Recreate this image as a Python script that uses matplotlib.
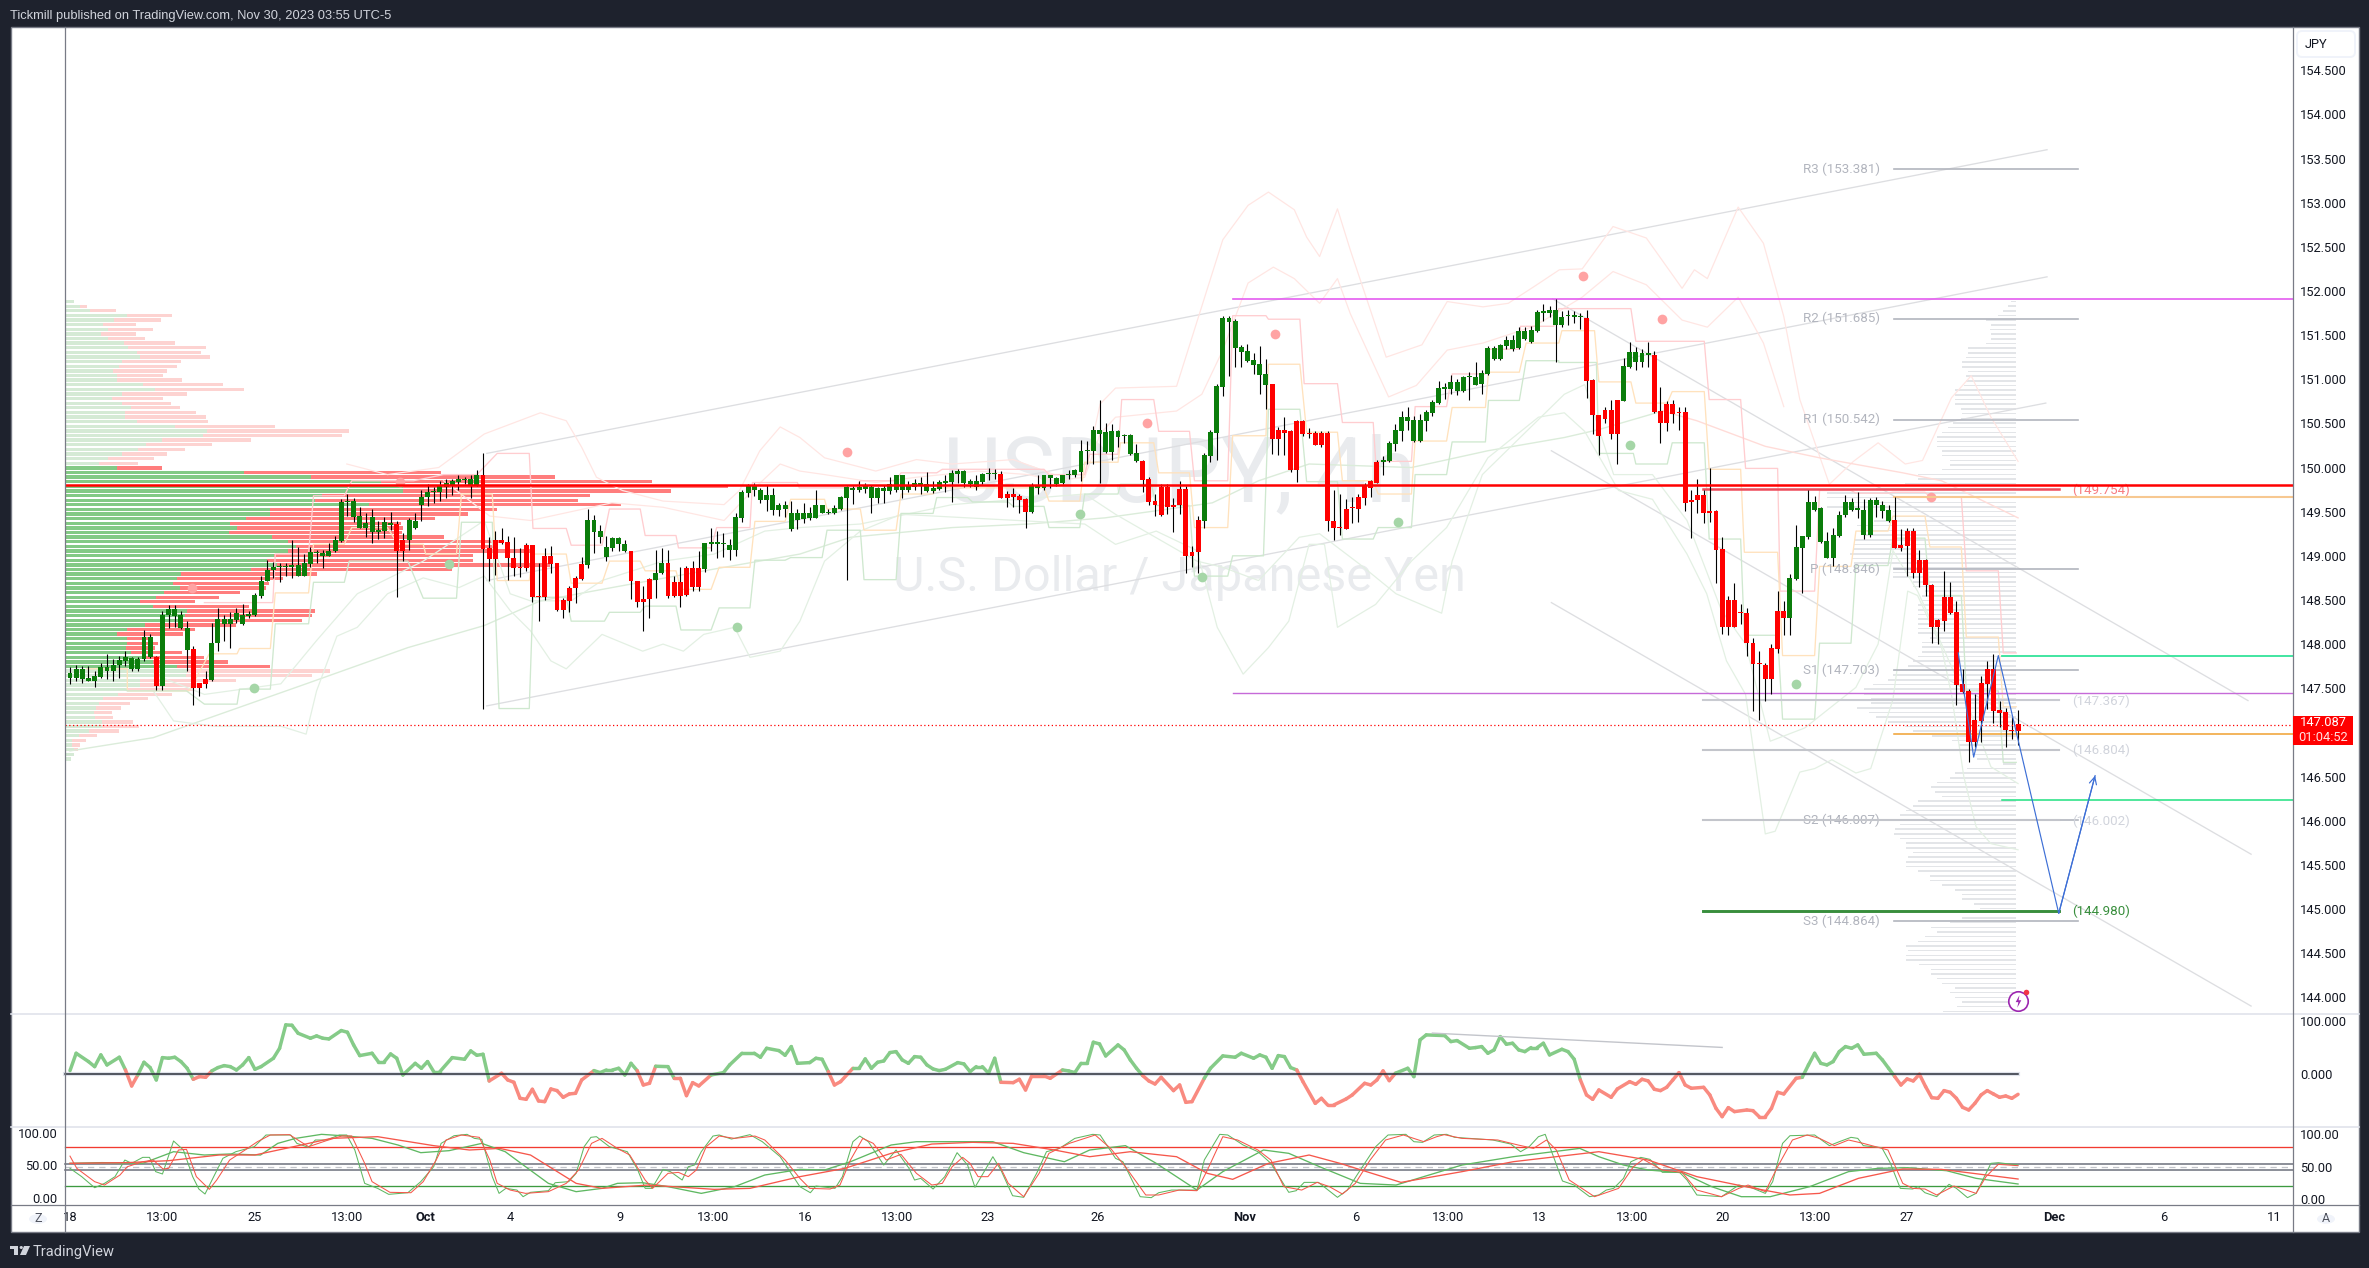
import numpy as np
import matplotlib
matplotlib.use('Agg')
import matplotlib.pyplot as plt
from matplotlib.lines import Line2D
from matplotlib.patches import Rectangle, Polygon, Circle, FancyBboxPatch
from matplotlib.path import Path
from matplotlib.transforms import offset_copy

W, H = 2369, 1268

# candles (4h bars), colour comes from the indicator so it is kept apart
body_top = [
147.67,147.72,147.72,147.62,147.64,147.74,147.74,147.76,147.82,147.85,
147.84,147.83,148.08,148.08,147.85,148.33,148.40,148.40,148.33,148.18,
147.95,147.56,147.61,148.01,148.28,148.28,148.28,148.35,148.33,148.34,
148.56,148.72,148.84,148.87,148.88,148.89,148.90,148.90,148.92,149.04,
149.04,149.03,149.06,149.18,149.61,149.62,149.62,149.45,149.37,149.44,
149.29,149.38,149.37,149.36,149.18,149.40,149.40,149.67,149.72,149.73,
149.79,149.82,149.85,149.87,149.87,149.87,149.92,149.92,149.09,149.18,
149.18,149.16,148.98,148.87,149.12,149.12,148.55,149.00,149.00,148.92,
148.50,148.64,148.75,148.91,149.41,149.41,149.28,149.10,149.20,149.20,
149.13,149.06,148.72,148.51,148.74,148.81,148.92,148.92,148.70,148.70,
148.86,148.86,148.86,149.14,149.16,149.16,149.13,149.12,149.44,149.72,
149.79,149.79,149.75,149.69,149.69,149.57,149.57,149.49,149.49,149.48,
149.48,149.58,149.58,149.49,149.54,149.67,149.78,149.77,149.78,149.79,
149.78,149.77,149.77,149.81,149.92,149.92,149.80,149.83,149.83,149.81,
149.77,149.84,149.85,149.94,149.96,149.96,149.85,149.85,149.93,149.94,
149.94,149.93,149.70,149.70,149.68,149.64,149.79,149.79,149.91,149.91,
149.88,149.91,149.92,149.97,150.19,150.20,150.42,150.42,150.40,150.41,
150.41,150.37,150.37,150.16,150.07,149.87,149.62,149.78,149.78,149.57,
149.76,149.76,149.04,149.41,150.14,150.40,150.92,151.69,151.69,151.66,
151.37,151.32,151.22,151.17,151.06,150.95,150.43,150.43,150.41,150.53,
150.53,150.39,150.39,150.39,150.39,149.40,149.33,149.53,149.55,149.67,
149.80,149.85,150.06,150.09,150.28,150.43,150.57,150.57,150.54,150.54,
150.63,150.74,150.90,150.91,150.97,150.97,151.03,151.03,151.03,151.07,
151.35,151.35,151.39,151.45,151.45,151.55,151.55,151.56,151.76,151.77,
151.79,151.79,151.71,151.73,151.73,151.71,151.69,150.99,150.60,150.65,
150.65,150.77,151.15,151.31,151.31,151.30,151.30,151.28,150.64,150.72,
150.72,150.63,150.63,149.63,149.69,149.69,149.51,149.51,149.08,148.50,
148.50,148.35,148.35,148.01,147.78,147.76,147.96,148.38,148.38,148.75,
149.10,149.23,149.61,149.61,149.54,149.17,149.24,149.46,149.61,149.61,
149.54,149.52,149.63,149.63,149.58,149.52,149.40,149.12,149.28,149.28,
148.95,148.95,148.67,148.27,148.53,148.53,148.36,147.55,147.47,147.14,
147.56,147.72,147.72,147.25,147.23,147.03,147.09]
body_bottom = [
147.62,147.62,147.61,147.58,147.58,147.63,147.70,147.70,147.76,147.81,
147.72,147.72,147.83,147.85,147.53,147.53,148.33,148.32,148.18,147.93,
147.50,147.50,147.55,147.59,148.01,148.23,148.23,148.27,148.23,148.32,
148.33,148.55,148.72,148.84,148.87,148.87,148.87,148.77,148.77,148.91,
149.03,149.00,149.00,149.05,149.17,149.61,149.44,149.32,149.32,149.27,
149.27,149.28,149.35,149.06,149.06,149.18,149.31,149.58,149.67,149.72,
149.72,149.78,149.79,149.84,149.86,149.80,149.80,149.08,148.96,148.96,
149.15,148.97,148.86,148.86,148.86,148.53,148.53,148.53,148.91,148.39,
148.39,148.49,148.63,148.74,148.90,149.27,149.21,148.99,149.09,149.13,
149.05,148.71,148.48,148.48,148.51,148.73,148.81,148.54,148.54,148.54,
148.56,148.65,148.65,148.85,149.13,149.13,149.13,149.07,149.07,149.43,
149.71,149.74,149.63,149.63,149.52,149.52,149.53,149.30,149.41,149.42,
149.43,149.43,149.48,149.48,149.49,149.53,149.66,149.75,149.74,149.76,
149.66,149.66,149.73,149.73,149.74,149.74,149.74,149.78,149.80,149.73,
149.73,149.76,149.83,149.84,149.93,149.83,149.81,149.78,149.84,149.93,
149.93,149.66,149.66,149.67,149.63,149.50,149.50,149.77,149.77,149.88,
149.81,149.83,149.91,149.91,149.95,150.19,150.19,150.38,150.18,150.18,
150.35,150.36,150.15,150.07,149.86,149.61,149.58,149.46,149.55,149.55,
149.57,149.00,149.00,149.04,149.40,150.13,150.39,150.91,151.65,151.35,
151.31,151.21,151.16,151.05,150.94,150.32,150.32,150.39,149.97,149.97,
150.38,150.38,150.26,150.26,149.39,149.32,149.32,149.30,149.54,149.53,
149.66,149.77,149.83,150.06,150.07,150.27,150.41,150.53,150.30,150.30,
150.53,150.62,150.73,150.89,150.89,150.87,150.87,151.02,150.94,150.95,
151.06,151.23,151.23,151.38,151.34,151.35,151.46,151.42,151.55,151.75,
151.75,151.62,151.62,151.72,151.71,151.70,150.98,150.59,150.36,150.55,
150.38,150.38,150.75,151.14,151.19,151.19,151.27,150.63,150.50,150.50,
150.61,150.62,149.60,149.61,149.63,149.49,149.49,149.07,148.19,148.19,
148.19,148.35,148.01,147.77,147.77,147.61,147.61,147.95,148.29,148.29,
148.74,149.09,149.21,149.52,149.16,148.98,148.98,149.23,149.46,149.52,
149.52,149.24,149.24,149.58,149.51,149.39,149.09,149.09,149.11,148.80,
148.80,148.67,148.19,148.19,148.26,148.35,147.54,147.46,146.89,146.89,
147.13,147.55,147.24,147.22,147.03,147.02,147.02]
wick_high = [
147.74,147.76,147.75,147.75,147.70,147.79,147.89,147.83,147.87,147.92,
147.85,147.85,148.16,148.11,147.87,148.38,148.44,148.44,148.38,148.26,
147.98,147.56,147.70,148.24,148.41,148.33,148.36,148.41,148.45,148.37,
148.58,148.77,148.95,148.93,148.92,148.92,149.18,149.10,149.02,149.10,
149.07,149.07,149.14,149.23,149.64,149.70,149.66,149.55,149.48,149.53,
149.40,149.44,149.50,149.40,149.26,149.43,149.49,149.74,149.81,149.78,
149.85,149.87,149.87,149.91,149.89,149.92,149.97,150.16,149.21,149.28,
149.32,149.23,149.21,149.09,149.15,149.12,148.92,149.09,149.11,148.92,
148.52,148.66,148.77,148.99,149.53,149.46,149.35,149.23,149.21,149.21,
149.18,149.06,148.72,148.66,148.75,149.07,149.09,149.07,148.77,148.87,
148.89,148.94,149.06,149.15,149.32,149.28,149.26,149.19,149.48,149.74,
149.81,149.83,149.77,149.80,149.77,149.60,149.62,149.62,149.53,149.60,
149.55,149.75,149.58,149.53,149.57,149.68,149.79,149.79,149.85,149.83,
149.80,149.78,149.80,149.89,149.92,149.92,149.85,149.87,149.89,149.95,
149.85,149.86,149.92,149.97,149.98,149.97,149.87,149.91,149.94,149.99,
149.98,149.96,149.73,149.77,149.70,149.65,149.83,149.92,149.92,149.92,
149.89,149.92,149.97,149.98,150.31,150.30,150.47,150.76,150.50,150.49,
150.43,150.38,150.38,150.27,150.08,149.89,149.70,149.81,149.81,149.66,
149.85,149.79,149.11,149.45,150.17,150.43,150.95,151.72,151.72,151.68,
151.39,151.40,151.30,151.38,151.23,150.95,150.46,150.57,150.43,150.54,
150.54,150.45,150.41,150.41,150.41,149.75,149.70,149.64,149.67,149.70,
149.82,149.86,150.08,150.13,150.30,150.49,150.64,150.69,150.58,150.61,
150.65,150.76,150.98,150.96,151.05,151.00,151.04,151.08,151.19,151.11,
151.38,151.38,151.40,151.49,151.50,151.59,151.59,151.60,151.78,151.85,
151.83,151.91,151.77,151.79,151.77,151.75,151.78,151.00,150.60,150.68,
150.77,150.77,151.24,151.42,151.36,151.34,151.42,151.32,150.91,150.75,
150.76,150.68,150.69,149.75,149.87,149.75,149.99,149.52,149.21,148.55,
148.69,148.45,148.41,148.07,147.92,147.79,148.00,148.60,148.49,148.79,
149.35,149.23,149.74,149.68,149.55,149.27,149.32,149.51,149.69,149.65,
149.72,149.64,149.66,149.67,149.62,149.57,149.67,149.30,149.32,149.32,
149.07,148.96,148.68,148.28,148.83,148.70,148.49,147.72,147.49,147.43,
147.64,147.81,147.89,147.36,147.28,147.17,147.25]
wick_low = [
147.55,147.58,147.56,147.58,147.51,147.62,147.60,147.58,147.62,147.75,
147.69,147.70,147.81,147.84,147.48,147.48,148.18,148.19,148.17,147.69,
147.31,147.41,147.50,147.58,147.92,148.04,147.96,148.24,148.22,148.29,
148.32,148.52,148.72,148.75,148.70,148.77,148.75,148.77,148.77,148.87,
148.92,148.86,149.00,149.04,149.16,149.45,149.38,149.31,149.21,149.14,
149.19,149.20,149.29,148.53,148.94,149.07,149.30,149.40,149.56,149.60,
149.62,149.66,149.69,149.74,149.81,149.65,149.79,147.27,148.71,148.78,
149.13,148.73,148.77,148.76,148.83,148.48,148.26,148.50,148.80,148.38,
148.30,148.36,148.46,148.73,148.86,149.03,149.15,148.94,149.06,149.06,
149.04,148.51,148.42,148.15,148.30,148.52,148.79,148.52,148.53,148.42,
148.54,148.60,148.60,148.82,149.06,148.98,148.99,148.95,149.00,149.38,
149.67,149.68,149.60,149.51,149.46,149.45,149.44,149.28,149.30,149.37,
149.41,149.43,149.48,149.47,149.47,149.52,148.73,149.59,149.72,149.71,
149.48,149.60,149.60,149.70,149.72,149.66,149.72,149.74,149.70,149.72,
149.71,149.74,149.72,149.61,149.83,149.78,149.78,149.74,149.81,149.86,
149.87,149.65,149.55,149.55,149.49,149.32,149.49,149.70,149.75,149.77,
149.79,149.81,149.87,149.89,149.85,150.04,150.04,149.82,150.16,150.08,
150.23,150.28,150.14,150.06,149.72,149.57,149.45,149.45,149.47,149.27,
149.47,148.80,148.87,148.81,149.32,150.06,150.08,150.81,151.04,151.14,
151.14,151.19,151.06,150.83,150.66,150.15,150.14,150.14,149.95,149.84,
150.36,150.34,150.26,150.23,149.28,149.18,149.24,149.30,149.37,149.38,
149.57,149.67,149.82,149.92,150.06,150.19,150.30,150.43,150.29,150.29,
150.41,150.58,150.72,150.78,150.83,150.82,150.86,150.76,150.94,150.83,
151.05,151.22,151.22,151.34,151.32,151.34,151.45,151.41,151.54,151.66,
151.70,151.20,151.59,151.62,151.64,151.57,150.79,150.38,150.14,150.51,
150.32,150.04,150.75,151.13,151.11,151.14,151.14,150.62,150.28,150.41,
150.50,150.43,149.51,149.20,149.48,149.37,149.38,148.69,148.11,148.10,
148.19,148.23,147.87,147.24,147.14,147.35,147.43,147.90,148.10,148.10,
148.73,148.58,149.19,149.51,149.15,148.97,148.89,149.21,149.44,149.51,
149.43,149.19,149.21,149.44,149.43,149.38,149.09,149.06,148.77,148.75,
148.65,148.55,148.01,148.00,148.15,148.34,147.31,147.45,146.67,146.83,
146.89,147.26,147.11,147.06,146.84,146.92,146.86]
color_runs = [('G',14),('R',1),('G',5),('R',3),('G',30),('R',2),('G',12),('R',17),
              ('G',7),('R',4),('G',2),('R',6),('G',48),('R',5),('G',18),('R',10),
              ('G',11),('R',18),('G',33),('R',6),('G',5),('R',22),('G',17),('R',21)]

# left volume profile, rows top to bottom (length in bar widths)
vp_up = [1.4,2.5,4.1,10.1,7.9,6.1,7.0,5.8,6.9,9.5,10.2,11.7,12.1,9.3,8.8,7.7,8.5,8.5,12.6,14.6,
         9.3,7.6,9.3,10.7,9.8,9.8,11.6,17.8,23.0,22.3,15.8,13.2,11.9,9.3,6.9,5.5,8.5,29.1,39.9,51.2,
         54.8,54.8,41.6,40.6,49.3,33.2,33.2,29.3,26.8,27.9,26.6,33.6,36.2,37.4,36.1,33.9,32.8,34.3,30.2,18.8,
         18.1,17.5,18.7,16.1,14.7,12.2,14.2,19.8,19.4,19.2,12.9,10.1,8.4,10.1,10.1,9.9,10.7,13.0,14.2,18.1,
         19.7,19.6,12.1,12.1,10.1,8.6,6.2,5.5,5.0,4.7,4.9,6.0,6.0,3.9,2.2,1.2,1.2,1.4,1.4,0.9]
vp_down = [0,1.0,4.2,7.2,7.6,5.4,7.2,5.7,6.1,8.3,12.6,10.3,11.4,9.5,9.4,8.8,7.4,10.4,13.0,14.5,
           10.5,8.3,7.9,8.0,11.4,13.1,11.6,16.2,23.1,22.6,14.3,10.6,7.5,7.2,7.6,6.3,7.3,31.9,39.6,44.0,
           52.8,43.5,43.6,42.6,40.8,36.9,32.1,30.7,27.7,26.9,28.0,27.9,34.2,32.6,39.3,32.3,33.4,44.4,32.6,22.1,
           17.2,15.6,13.9,12.2,10.3,8.9,15.6,20.7,20.6,19.2,14.8,11.0,10.8,4.1,5.0,4.7,8.3,9.5,12.3,15.2,
           23.2,20.4,15.7,9.9,10.7,8.7,7.2,5.1,4.0,2.9,2.8,5.0,6.0,4.8,2.9,2.2,1.2,0.7,0,0]

# grey fixed range profile on the right, rows top to bottom
vp_right = [0.9,1.3,2.1,2.9,4.9,4.1,4.3,4.1,4.1,4.9,7.9,7.9,8.1,8.8,8.8,7.9,8.1,8.1,8.4,10.0,
            9.9,10.0,9.9,9.0,8.8,9.0,10.3,11.1,12.0,12.8,12.8,12.8,12.0,12.0,10.8,10.8,12.0,16.0,16.0,18.0,
            22.8,30.7,30.7,26.3,30.7,20.0,20.0,23.1,25.9,24.7,24.7,26.3,26.3,26.3,27.0,26.7,26.3,20.0,20.0,20.0,
            16.8,16.8,14.8,15.2,15.2,16.0,16.0,16.0,16.0,16.0,16.0,16.0,14.0,15.2,15.2,15.2,16.0,16.8,17.6,20.0,
            20.0,20.8,23.2,24.7,24.7,23.5,23.5,25.9,23.9,22.8,20.8,18.0,16.8,13.6,10.4,9.2,7.9,7.2,6.4,2.1,
            8.0,10.0,10.8,12.8,13.8,13.2,12.0,16.0,16.8,17.8,18.8,19.8,18.8,19.6,19.8,18.8,17.8,17.8,16.8,17.6,
            17.8,17.8,16.0,14.0,14.0,12.0,10.0,8.8,8.8,6.8,5.8,0,8.8,10.8,13.8,12.8,14.8,16.0,17.8,17.6,
            17.8,17.8,15.8,13.8,13.8,12.8,12.0,10.0,10.8,9.9,8.8,9.6,11.9]

# stepped lines: start bar, end bar, price
red_start = [21.8,33.3,39.5,45.7,60.6,69.3,75.1,81.3,87.5,93.3,98.7,104.9,110.7,118.3,128.2,134.8,141.5,158.8,165.4,170.6,176.6,182.4,188.6,194.4,200.2,206.4,211.8,218.2,224.2,230,235.3,241.5,254,265.9,271.8,277.4,283.8,289.7,295.7,301.7,307.6,313.6]
red_end = [32.9,38.7,44.5,55.7,66,74.5,80.5,86.3,92.5,98.3,104,110.3,118,127.5,134,140.6,158,164.6,170,175.8,181.6,187.8,194,199.5,205.6,211.4,217.6,223.3,229.6,234.9,240.7,253.2,265.1,271,277,283,288.9,294.9,300.9,306.8,312.8,315.7]
red_price = [148.47,149.02,149.68,149.85,149.92,150.16,149.31,149.12,149.53,149.23,149.09,149.32,149.83,149.77,149.85,149.94,149.98,149.92,150.15,150.77,150.41,149.85,151.72,151.68,150.95,150.51,150.07,150.69,151.06,151.34,151.60,151.80,151.43,150.77,149.99,148.60,149.74,149.71,149.72,149.67,148.83,147.90]
orange_start = [2.7,9.3,22.6,27.5,33.3,39.5,45.7,53.2,57.7,63.5,69.3,75.1,81.3,87.5,93.3,99.1,105.3,111.1,116.9,122.8,128.8,134.8,140.6,158.8,164.6,170.4,176.6,182.4,188.6,194.4,200.6,206.4,212.2,218.2,224.2,230.1,236.2,242,248,254,259.9,265.9,271.6,277.8,283.8,289.7,295.7,301.7,307.6,313.6]
orange_end = [9.3,19.3,27.1,32.5,38.7,44.5,51.5,57.3,62.7,68.5,74.5,80.5,86.3,92.5,98.3,104,110.3,116,122.4,128.2,134,140,158,163.8,170,175.8,181.6,187.8,194,199.5,205.6,211.4,217.6,223.3,229.6,235.1,241.5,247.3,253.2,259.1,265.1,271,277,283,288.9,294.9,300.9,306.8,312.8,315.7]
orange_price = [147.72,147.47,147.89,147.95,148.58,149.13,149.32,149.13,149.02,149.70,148.72,149.02,148.69,148.94,148.83,148.62,148.87,149.39,149.64,149.53,149.29,149.70,149.77,149.62,150.06,150.28,149.94,149.32,150.36,151.17,150.40,149.85,149.70,150.30,150.68,151.08,151.41,151.55,150.97,150.73,150.86,149.98,149.04,147.87,148.88,149.28,149.45,149.10,148.08,147.29]
green_start = [3.1,9.3,21.8,27.5,33.3,39.5,45.3,57.3,63.5,69.6,75.1,81.3,87.5,93.3,99.1,105.3,111.1,116.9,122.8,128.8,134.8,140.6,146.4,153,158.8,164.6,170.4,176.2,182.4,188.6,194.4,200.6,206.4,212.2,218.2,224.2,230.1,236.2,241.5,248,254,259.9,265.9,271.6,277.8,283.8,289.7,295.7,301.7,307.6,313.6]
green_end = [8.9,18.9,27.1,32.5,38.7,44.5,54.8,62.7,68.5,74.5,80.5,86.7,92.5,98.3,104,110.3,116,122,128.2,134,140,145.6,152.2,158,163.8,170,175.4,181.6,187.8,193.6,199.5,205.6,211.4,217.6,223.3,229.6,235.1,241.5,247.6,253.6,259.1,265.1,271,277,283,288.9,294.9,300.9,306.8,312.8,315.7]
green_price = [147.49,147.47,147.32,147.49,148.23,148.70,148.94,148.52,149.38,147.27,148.53,148.26,148.36,148.43,148.16,148.41,148.95,148.98,149.29,148.73,149.48,149.66,149.61,149.56,149.32,149.70,149.81,149.57,148.77,149.00,150.66,149.84,149.19,149.32,149.92,150.29,150.76,151.21,151.19,150.16,150.04,150.28,149.19,148.10,147.15,148.01,148.89,149.20,148.55,147.47,146.66]

# channel bands read at their turning points
upper2_bar = [44.9,51.5,59.8,67.2,76.3,80.5,83,85.4,89.6,96.2,106.1,108.6,111.9,115.2,118.4,122.4,130.7,137.3,143.1,153,159.7,164.6,167.1,169.6,179.5,187,191.1,194.4,198.6,200.6,202.7,205.6,207.7,213.5,219.3,223.4,229.2,233.3,237.5,241.6,245.3,250.3,255.7,261.5,263.5,265.6,270.6,274.7,278,280.6,285.4,289.3,293.3,297.7,300.5,305.2,308.4,311.6,316]
upper2_val = [150.04,149.92,150.0,150.38,150.62,150.53,150.23,149.89,149.74,149.62,149.58,149.74,150.19,150.46,150.34,150.11,149.96,150.09,150.04,150.09,149.92,149.92,150.72,150.9,150.92,152.58,152.97,153.12,152.92,152.61,152.39,152.93,152.46,151.25,151.39,151.88,151.82,151.86,152.05,152.24,152.25,152.73,152.6,152.03,152.24,152.14,152.95,152.54,151.71,150.77,149.81,150.07,150.28,150.04,150.08,150.79,151.04,150.57,150.07]
upper1_bar = [60.6,68.1,74.7,87.9,96.2,106.1,111.1,115.2,118.4,122.4,130.7,137.3,147.3,155.5,159.7,164.6,167.1,169.6,179.5,183.6,187,191.1,195.2,198.6,202.7,205.6,207.7,213.9,218.4,223.4,229.2,237.5,245.3,250.3,255.7,261.5,265.6,270.6,274.7,278]
upper1_val = [149.85,149.45,149.4,149.6,149.55,149.4,149.77,150.04,149.96,149.92,149.83,149.89,149.96,149.92,149.85,149.89,150.38,150.57,150.64,150.83,151.33,152.09,152.27,152.14,151.86,152.14,151.74,150.8,150.93,151.33,151.41,151.6,151.93,152.22,152.07,151.67,151.59,151.93,151.41,150.69]
basis_bar = [0,13.5,38.3,54.8,67.2,76.3,87.9,104.5,118.4,126.6,143.1,155.5,167.9,180.3,185.3,192.8,201,217.6,230,242.4,248,258.3,263.9,275,283.8,297.3,303.6,316]
basis_val = [146.79,146.94,147.55,147.96,148.21,148.49,148.64,148.85,149.02,149.21,149.32,149.36,149.43,149.55,149.6,149.85,150.04,150.0,150.19,150.34,150.43,150.64,150.53,150.24,150.11,149.94,149.85,149.43]
lower1_bar = [13.5,21.8,34.2,40,46.6,57.3,67.2,71.4,74.7,81.3,86.3,96.2,104.5,112.7,118.4,128.2,143.1,164.6,169.6,182.8,187,192.8,199.4,202.7,209.3,215.1,222.5,224.2,229.1,242.4,245.7,250.4,256.7,262.3,267.9,271.8,275.8,281.4,289.7,293.3,295.7,299.7,303.6,307.6,311.6,316]
lower1_val = [147.66,147.43,147.55,148.04,148.57,148.94,149.4,148.57,148.49,148.49,148.72,148.94,149.02,149.28,149.32,149.36,149.58,149.7,149.47,148.94,148.87,148.72,149.21,149.25,148.9,148.57,148.35,148.94,149.92,150.83,150.94,149.92,149.92,149.4,148.38,148.0,146.9,147.05,147.51,148.0,149.06,148.6,148.0,147.36,146.61,146.42]
lower2_bar = [13.5,16.8,23.4,34.2,38.3,40,43.3,46.6,51.5,57.3,63.1,67.2,71.4,74.7,78,80.5,86.3,92.9,96.2,99.5,102.8,107.8,110.3,115.2,118.4,122.4,128.2,134.8,164.6,169.6,176.2,182.8,186.1,190.3,194.4,197.7,201,203.5,205.6,211.8,217.6,223.3,230,238.2,242.4,245.7,251.2,256.7,262.3,265.5,268.7,271.8,275,276.6,280.6,283,285.8,289.7,292.1,295.7,298.1,299.7,303.6,305.2,307.2,309.2,311.6,316]
lower2_val = [147.47,147.13,147.07,147.07,146.98,147.47,148.09,148.19,148.57,148.75,148.64,148.77,148.38,148.15,147.81,147.72,148.11,147.92,148.0,147.92,148.11,148.19,147.85,147.92,148.26,148.94,149.28,149.47,149.36,149.13,149.28,149.06,148.19,147.66,147.96,148.26,149.13,149.13,148.19,148.45,148.94,149.32,150.11,150.57,150.62,150.41,149.74,149.64,149.02,148.57,147.81,147.43,145.85,145.88,146.55,146.59,146.69,146.54,146.59,147.37,148.6,148.55,147.96,147.43,146.5,145.93,145.74,145.67]

red_dot_bar = [53.6,19.8,126,174.7,195.5,245.4,258.3,301.8]
red_dot_val = [149.84,148.64,150.18,150.5,151.51,152.17,151.68,149.67]
green_dot_bar = [29.8,61.5,108.2,163.8,183.6,215.4,253.1,280]
green_dot_val = [147.5,148.91,148.19,149.47,148.76,149.38,150.25,147.55]

# drawn trend lines: bar0, price0, bar1, price1
trend_lines = [(67.6,150.16,320.7,153.6),(67.6,148.72,320.7,152.16),(67.6,147.3,320.5,150.73),
               (240.5,151.91,353.3,147.36),(240.3,150.19,353.8,145.62),(240.3,148.47,353.8,143.9)]
path_bar = [306.3,308.8,312.8,322.6,328.5]
path_val = [147.9,146.72,147.87,144.95,146.51]

pivot_names = ['R3','R2','R1','P','S1','S2','S3']
pivot_vals = [153.381,151.685,150.542,148.846,147.703,146.007,144.864]
fib_vals = [149.754,147.367,146.804,146.002,144.980]

rsi_bar = [0,1,3,4,5,6,8,9,10,11,12,13,14,15,16,17,18,19,20,21,22,23,24,25,26,27,28,29,30,31,33,34,35,36,37,39,40,41,42,44,45,46,47,49,50,51,52,53,54,56,57,58,59,60,62,64,65,66,67,68,70,71,72,73,74,75,76,77,78,79,80,81,82,83,85,86,87,88,89,90,91,92,93,94,95,97,98,99,100,101,102,104,106,107,109,111,112,113,115,116,117,118,
           120,121,122,123,124,125,127,128,129,130,131,132,133,134,135,136,137,138,139,140,141,142,144,145,146,147,148,149,150,151,153,154,155,156,158,159,161,162,163,164,165,166,167,168,170,171,172,173,174,175,176,177,179,180,181,182,184,185,187,189,190,192,193,194,195,196,197,198,199,200,202,203,204,205,207,208,210,211,212,213,214,215,217,218,219,220,223,224,225,227,228,229,230,231,232,233,234,235,236,237,238,239,240,242,243,244,245,246,247,
           248,250,251,253,254,255,256,257,258,259,260,261,262,263,265,266,267,268,269,270,272,273,274,275,276,277,278,280,281,282,283,284,285,286,287,288,289,290,291,293,294,295,296,297,298,299,300,301,302,303,304,305,306,307,308,309,310,311,312,313,314,315,316]
rsi_val = [6.3,39,23.3,13.8,35.9,17,31.5,7.5,-22.6,-1.9,22,12,-11.3,30.8,29.6,31.5,23.3,10.7,-10,-5,-6.3,5.7,12,15.7,13.8,7.5,17,30.8,8.8,13.8,29.6,48.4,92.5,91.8,76.7,67.3,71.7,67.3,66,81.8,78.6,54.7,34.6,39,23.3,23.3,37.7,29.6,-1.9,20,10.7,23.3,4.4,4.4,30.8,27.7,43.4,35.2,37.1,-13.2,1.3,-11.3,-15.7,-45.9,-47.8,-28.9,-50.9,-52.2,-28.3,-31.4,-44,-37.7,-36.5,-11.3,6.3,2.5,7.5,7.5,10.7,-1.9,20,6.3,-20.8,-17.6,14.5,13.8,-8.2,-8.2,-40.9,-16.4,-22.6,-1.9,2.5,17,39,39,31.5,48.4,44,35.2,51.6,20,
           21.4,29.6,27.7,4.4,-20.8,-14.5,10.7,10.7,28.3,10.7,22,24.5,40.3,42.1,26.4,20,32.7,31.5,17,9.4,6.3,8.8,21.4,18.9,4.4,13.8,13.8,1.3,29.6,-15.7,-16.4,-10,-30.2,-3.8,-3.8,-8.2,7.5,5.7,2.5,20,20,59.8,56.6,34,54.7,45.3,26.4,10.7,-3.1,-13.2,-18.9,-6.3,-31.4,-20.8,-53.5,-52.2,-8.2,10.7,34,31.5,39,29.6,35.9,31.5,10.7,34.6,32.7,12,7.5,-14.5,-55.4,-45.9,-58.5,-58.5,-47.2,-39.6,-17.6,-20.8,-11.3,5.7,-12.6,1.3,10.7,-5,64.2,73.6,72.3,61,62.9,48.4,49.7,51.6,39,45.3,70.4,56,57.9,45.3,42.1,49.7,49.7,57.9,35.9,46.5,42.1,27.7,-11.3,-39.6,-47.8,
           -30.2,-44,-28.3,-14.5,-19.5,-10,-13.2,-28.9,-31.4,-25.2,-11.3,2.5,-20.8,-27,-25.2,-39.6,-64.8,-80.5,-63.5,-71,-67.9,-69.2,-80.5,-80.5,-64.8,-34.6,-37.7,-8.2,-6.3,17,39,20,17,23.3,42.1,51.6,48.4,54.7,37.1,39,26.4,10.7,-5,-20.8,-9.4,-13.2,-0.6,-23.9,-44.7,-45.9,-31.4,-34.6,-45.9,-62.9,-67.9,-55.4,-39.6,-31.4,-37.7,-44,-41.5,-45.9,-38.4]

k_fast_bar = [0,1.9,4,5.6,7.3,8.9,10,11.8,12.9,13.9,15,16.8,18.4,19.9,20.9,21.9,24.8,26.9,29.9,31.8,35.8,36.8,38.7,39.8,41.6,43.7,44.9,46.2,47.8,49.9,51.7,54.8,56.9,59,60.2,62.3,64.4,65.6,66.8,68.5,69.6,70.7,72.5,73.5,74.7,77.6,78.7,80.9,82.1,83.4,84.5,85.4,87.5,90.4,92.1,93.3,94.4,96.2,97.4,99.3,100.3,101.3,102.4,104.3,105.3,107.3,110.3,112.3,115.2,118.4,
              120.1,121,124.1,125.3,127,128.1,129.5,132,134,136.1,137,138,140,141.9,143.9,145.6,146.8,149.7,151,152.9,154.7,156.8,158.4,160.5,163,165.9,167.1,169.6,170.8,173.6,175.4,176.6,178.7,182.8,184,186.5,187.8,190.3,192.7,194.8,197.7,198.9,200.2,202.5,205.6,207.2,209.3,211.8,213.8,216.7,218,219.4,221.3,223.3,224.6,230.8,233.7,235.3,236.7,238.2,239.3,242.1,244,246.5,248,
              249.2,250.4,252,253.2,254.8,256.3,258.3,261.1,262.3,263.9,266.3,267.9,270.7,272.6,275,276.2,277.8,279,283,285.4,287,288.9,290,290.9,293.9,295.3,296.9,298.9,299.8,300.9,302.8,304.8,306,307.8,309.2,311.6,312.8,316]
k_fast_val = [47.2,34.4,17.4,24.1,34.4,60,54.9,64.1,64.1,42.1,38.5,89.3,75.4,34.4,15.4,7.7,62.6,72.8,80.5,98.5,98.5,85.6,79.5,90.8,90.8,98.5,98.5,75.4,24.1,16.4,7.2,9.7,26.7,49.7,85.6,97.4,99.5,93.3,91.8,34.4,8.7,16.4,13.8,3.6,10.3,12.8,25.1,26.7,39.5,80.5,94.9,95.9,80.5,72.8,44.6,16.4,16.4,45.6,42.1,29.2,49.7,52.3,72.8,96.9,98.5,92.3,99,88.2,65.1,19,
              9.7,20,16.4,34.4,88.2,96.9,88.2,52.3,75.4,47.2,29.2,31.8,15.4,34.4,71.3,52.3,18,65.1,44.6,5.1,2.6,39.5,72.8,77.9,93.3,99.5,98.5,62.6,57.4,3.6,2.1,9.7,13.8,13.8,60,99.5,98.5,83.1,72.8,54.9,10.3,12.8,25.6,25.6,2.6,13.8,44.6,80.5,98.5,99.5,88.2,87.2,98.5,99.5,94.9,90.8,84.6,72.8,80.5,95.9,99.5,27.7,21.5,3.6,6.2,
              13.8,16.4,31.8,57.4,64.1,61,41,41,29.2,6.2,4.6,3.6,21.5,18,8.7,26.7,85.6,97.4,98.5,82.1,88.2,94.9,93.3,82.1,79,54.9,16.4,15.4,19,9.7,3.6,22.6,16.4,2.1,8.7,54.9,55.9,52.3]
d_fast_bar = [0,1.1,4,5.6,8.1,9.3,11.8,13.5,15.1,16,17.6,18.9,20.5,22.6,23.8,25.9,28.4,30.4,32.5,35.6,38.7,41.6,44.1,45.7,47.8,49,51.9,55.3,57.3,59.4,61,63.5,66.4,68.1,69.3,71.4,73.9,77.6,80.5,82.5,84.6,86.3,88.8,90.8,93.3,94.5,97,98.7,100.3,101.6,103.2,105.3,107.8,111.1,112.7,116,118.4,
              120,123.3,124.9,126.6,128.6,130.3,132.4,134.8,137.3,139.8,141.5,143.1,144.8,146,147.3,148.9,150.6,152.2,154.7,157.2,158.8,162.1,166.3,168.8,171.2,174.5,176.6,179.9,182.8,184.5,187,189.4,192.7,194.8,196.9,199.8,202.3,204.3,206.4,208.5,210.9,213.4,216.3,219.6,221.7,222.9,225.8,231.6,234.9,237.4,239.5,241.1,243.2,247.3,
              251.2,253.6,255.2,258.3,261.5,263.9,267.9,270.7,272.2,275,277,279.4,281.8,283.8,286.2,288.5,290.9,294.9,297.3,298.9,300.9,302.8,305.6,309.2,310.8,312.8,316]
d_fast_val = [66,47.2,26.7,21.5,36.9,49.7,57.4,60,46.2,47.2,75.4,76.4,34.4,14.9,29.2,60,75.4,88.2,98.5,99,80.5,89.8,97,97,54.9,26.7,10.3,9.7,26.7,60,90.8,98.5,94.9,60,24.1,13.8,8.7,11.3,24.1,44.6,85.6,93.3,77.9,67.7,29.2,16.4,39.5,41,34.4,44.6,80.5,96.9,93.3,96.9,90.8,60,31.8,
              16.4,15.4,21.5,60,93.3,85.6,60,68.7,39.5,21.5,24.1,49.7,64.1,54.9,34.4,34.4,54.9,24.1,3.6,39.5,70.3,85.6,98.5,77.9,49.7,6.2,6.2,13.8,12.8,44.6,95.9,90.8,75.4,60,19,13.8,25.6,19,7.7,24.1,60,90.8,98.5,88.2,95.9,99,93.3,90.8,83.1,77.9,90.8,75.4,29.2,3.6,
              16.4,49.7,61,44.6,41,13.8,3.6,16.4,21.5,11.3,49.7,90.8,98.5,93.3,82.1,90.8,85.6,75.4,24.1,16.4,15.4,6.2,20,8.7,34.4,53.3,51.3]
k_slow_bar = [0,5.2,11.8,16.8,21.8,25.9,30.9,33.7,36.6,40.8,44.9,49,53.2,56.9,61.5,66.8,70.6,73.9,77.6,82.1,86.3,88.8,92.9,97,102.4,107.8,112.7,118.4,122.4,126.6,133.2,137.3,143.1,149.7,154.7,161.3,165.4,171.2,176.2,182.8,187,193.6,197.7,202.7,209.3,215.1,225.8,234.1,244.9,248,252,256,261.5,266.3,271.1,275.8,282.2,288.5,293.3,298.1,304.4,309.2,316]
k_slow_val = [54.9,56,54.9,72.8,67.7,69.3,67.7,85.6,93.3,99.5,96.9,93.3,83.1,71.3,74.4,85.6,72.8,49.7,24.1,11.3,16.4,24.1,25.1,19,8.7,19,36.9,45.6,44.6,57.4,83.1,88.2,88.2,88.2,71.3,57.4,75.4,82.1,54.9,13.8,42.1,75.4,70.3,49.7,24.1,21.5,52.3,65.1,77.9,65.1,52.3,44.6,40.5,19,3.6,3.6,19,42.1,47.2,48.2,43.6,31.8,23.1]
d_slow_bar = [0,9.3,16,24.2,30,35,42.4,49.9,59,64.8,69.7,74.7,82.1,86.3,93.7,104.5,110.3,118.4,125.7,133.2,139.8,146.4,153,159.7,165.4,172,179.5,184.5,188.6,194.4,201,206,215.9,225.8,234.1,248,256,263.9,271.8,279,283.8,290.1,297.3,303.6,316]
d_slow_val = [54.9,56,59,67.7,67.7,77.9,93.3,95.9,82.1,75.4,77.9,67.7,24.1,16.4,21.5,14.9,16.4,34.4,47.2,70.3,84.6,87.2,85.6,75.4,65.1,72.8,65.1,39.5,30.3,54.9,67.7,54.9,25.6,42.1,57.4,72.8,60,34.4,19,6.2,8.7,31.8,46.2,45.6,30.8]

time_bars = [0,15,30,45,57.6,71.4,89.2,104.3,119.2,134.1,148.9,166.7,190.6,208.5,223.5,238.4,253.3,268,283,297.9,321.8,339.7,357.6]
time_labels = ['18','13:00','25','13:00','Oct','4','9','13:00','16','13:00','23','26','Nov','6','13:00','13','13:00','20','13:00','27','Dec','6','11']
price_ticks = [144.0,144.5,145.0,145.5,146.0,146.5,147.0,147.5,148.0,148.5,149.0,149.5,150.0,150.5,151.0,151.5,152.0,152.5,153.0,153.5,154.0,154.5]

GREEN = '#0b7d0b'
RED = '#ff0000'
BG = '#1e222d'
TXT = '#131722'
X0, X1 = -9.57, 360.6  # bar index at the pane edges
AXIS_BAR = -0.8        # the left scale line


def rect(x0, y0, x1, y1):
    return [x0 / W, 1 - y1 / H, (x1 - x0) / W, (y1 - y0) / H]


def fx(x):
    return x / W


def fy(y):
    return 1 - y / H


def make_pane(fig, y0, y1, ylim):
    ax = fig.add_axes(rect(11, y0, 2293, y1))
    ax.set_xlim(X0, X1)
    ax.set_ylim(*ylim)
    ax.set_facecolor('none')
    for s in ax.spines.values():
        s.set_visible(False)
    ax.set_xticks([])
    ax.yaxis.tick_right()
    ax.tick_params(axis='y', length=0, pad=5, labelsize=9.3, labelcolor=TXT)
    return ax


def draw_steps(ax, start, end, price, color):
    xs, ys = [], []
    for a, b, p in zip(start, end, price):
        xs += [a, b]
        ys += [p, p]
    ax.plot(xs, ys, color=color, lw=0.95, zorder=2)


def draw_profile(ax):
    rows = np.linspace(151.88, 146.70, len(vp_up))
    for k, (y, g, r) in enumerate(zip(rows, vp_up, vp_down)):
        strong = 36 <= k <= 79
        ax.barh(y, g, left=AXIS_BAR, height=0.038, color='#83c985' if strong else '#d5ead5', zorder=1)
        ax.barh(y, r, left=AXIS_BAR + g, height=0.038, color='#ff7d7d' if strong else '#fdd3d1', zorder=1)
    rows = np.linspace(151.88, 143.84, len(vp_right))
    ax.barh(rows, -np.array(vp_right), left=315.7, height=0.018, color='#e3e5e8', zorder=1)


def draw_main(ax):
    ax.text(180, 149.9, 'USDJPY, 4h', fontsize=65, color='#e9ebee', ha='center', va='center',
            family='Roboto', zorder=0)
    ax.text(180, 148.75, 'U.S. Dollar / Japanese Yen', fontsize=35, color='#e9ebee', ha='center',
            va='center', family='Roboto', zorder=0)

    draw_profile(ax)

    for b0, v0, b1, v1 in trend_lines:
        ax.plot([b0, b1], [v0, v1], color='#dddee1', lw=0.95, zorder=2)

    ax.plot(upper2_bar, upper2_val, color='#ffe6e3', lw=0.9, zorder=2)
    ax.plot(upper1_bar, upper1_val, color='#ffe6e3', lw=0.9, zorder=2)
    split = 21
    ax.plot(basis_bar[:split + 1], basis_val[:split + 1], color='#dbecda', lw=1.0, zorder=2)
    ax.plot(basis_bar[split:], basis_val[split:], color='#ffdcd8', lw=1.0, zorder=2)
    ax.plot(lower1_bar, lower1_val, color='#e3f0e3', lw=0.9, zorder=2)
    ax.plot(lower2_bar, lower2_val, color='#e3f0e3', lw=0.9, zorder=2)

    draw_steps(ax, red_start, red_end, red_price, '#ffcdd0')
    draw_steps(ax, orange_start, orange_end, orange_price, '#ffe2bd')
    draw_steps(ax, green_start, green_end, green_price, '#cfe8cf')

    ax.plot(red_dot_bar, red_dot_val, 'o', color='#ffa3a3', ms=7, mew=0, zorder=3)
    ax.plot(green_dot_bar, green_dot_val, 'o', color='#a5d6a7', ms=7, mew=0, zorder=3)

    # pivots
    for name, val in zip(pivot_names, pivot_vals):
        ax.plot([295.9, 325.7], [val, val], color='#b2b5be', lw=1.2, zorder=2)
        ax.text(293.6, val, f'{name} ({val:.3f})', color='#b2b5be', fontsize=9.6, family='Roboto',
                ha='right', va='center', zorder=3)

    # fib levels
    fib_colors = ['#ee4b5a', '#c9cbd1', '#c3c5cb', '#c3c5cb', '#388e3c']
    fib_text = ['#f77c80', '#d1d4dc', '#d1d4dc', '#d1d4dc', '#388e3c']
    fib_lw = [1.8, 1.5, 1.5, 1.5, 2.1]
    for val, c, tc, lw in zip(fib_vals, fib_colors, fib_text, fib_lw):
        ax.plot([264.9, 322.7], [val, val], color=c, lw=lw, zorder=3)
        ax.text(324.7, val - 0.01, f'({val:.3f})', color=tc, fontsize=9.6, family='Roboto',
                ha='left', va='center', zorder=3)

    # candles
    colors = []
    for c, n in color_runs:
        colors += [c] * n
    bars = np.arange(len(body_top))
    ax.vlines(bars, wick_low, wick_high, color='black', lw=0.8, zorder=4)
    top = np.array(body_top)
    bot = np.array(body_bottom)
    face = [GREEN if c == 'G' else RED for c in colors]
    ax.bar(bars, np.maximum(top - bot, 0.012), bottom=bot, width=0.8, color=face, zorder=5)

    # horizontal levels
    ax.plot([AXIS_BAR, X1], [149.8, 149.8], color=RED, lw=1.8, zorder=6, solid_capstyle='butt')
    ax.plot([188.6, X1], [151.91, 151.91], color='#e45cf0', lw=1.2, zorder=3)
    ax.plot([188.6, X1], [147.45, 147.45], color='#c66ad8', lw=1.0, zorder=3)
    ax.plot([295.9, X1], [149.67, 149.67], color='#f7c891', lw=1.5, zorder=3)
    ax.plot([295.9, X1], [146.98, 146.98], color='#f0a030', lw=1.1, zorder=3)
    ax.plot([313.4, X1], [147.87, 147.87], color='#33e39a', lw=1.3, zorder=3)
    ax.plot([313.4, X1], [146.23, 146.23], color='#1fe080', lw=1.1, zorder=3)
    ax.plot([AXIS_BAR, X1], [147.087, 147.087], color=RED, lw=0.9, ls=(0, (1, 2)), zorder=6)

    # projection path
    ax.plot(path_bar, path_val, color='#3d6fd6', lw=0.85, zorder=7)
    ax.annotate('', xy=(path_bar[-1], path_val[-1]), xytext=(path_bar[-2], path_val[-2]), zorder=7,
                arrowprops=dict(arrowstyle='->', color='#3d6fd6', lw=0.85, shrinkA=0, shrinkB=0, mutation_scale=13))

    # flash mark under the last bar
    bolt = Path([(0.15, 1), (-0.45, -0.1), (-0.02, -0.1), (-0.2, -1), (0.45, 0.2), (0.02, 0.2), (0.15, 1)])
    ax.plot([316], [143.96], 'o', ms=14, mfc='white', mec='#9c27b0', mew=1.2, zorder=7)
    ax.plot([316], [143.96], marker=bolt, ms=9, color='#9c27b0', mew=0, zorder=8)
    dot = offset_copy(ax.transData, fig=ax.figure, x=5.5, y=6.5, units='points')
    ax.plot([316], [143.96], 'o', ms=4, color='#f23645', mew=0, zorder=9, transform=dot)

    ax.set_yticks(price_ticks)
    ax.set_yticklabels([f'{t:.3f}' for t in price_ticks], family='Roboto')


def draw_rsi(ax):
    ax.plot([AXIS_BAR, 316], [0, 0], color='#e0e3eb', lw=3, zorder=1)
    ax.plot([AXIS_BAR, 316], [0, 0], color='#2a2e39', lw=1.1, zorder=3)
    for a in range(len(rsi_bar) - 1):
        mean = (rsi_val[a] + rsi_val[a + 1]) / 2
        color = '#85cb88' if mean > 0 else '#f98a80'
        ax.plot(rsi_bar[a:a + 2], rsi_val[a:a + 2], color=color, lw=2.5, zorder=2, solid_capstyle='round')
    ax.plot([221, 268], [77, 50], color='#c3c5cb', lw=1.0, zorder=4)
    ax.set_yticks([0, 100])
    ax.set_yticklabels(['0.000', '100.000'], family='Roboto')


def draw_stoch(ax):
    ax.plot([AXIS_BAR, X1], [80, 80], color='#f23a30', lw=0.95, zorder=2)
    ax.plot([AXIS_BAR, X1], [20, 20], color='#3d9a40', lw=0.95, zorder=2)
    ax.plot([AXIS_BAR, X1], [53.3, 53.3], color='#787b86', lw=1.2, zorder=2)
    ax.plot([AXIS_BAR, X1], [44.1, 44.1], color='#787b86', lw=1.2, zorder=2)
    ax.plot([AXIS_BAR, X1], [50, 50], color='#c3c5cb', lw=0.9, ls=(0, (5, 4)), zorder=2)
    ax.plot(k_fast_bar, k_fast_val, color='#5fb862', lw=0.75, zorder=3)
    ax.plot(d_fast_bar, d_fast_val, color='#f6574b', lw=0.75, zorder=4)
    ax.plot(k_slow_bar, k_slow_val, color='#5fb862', lw=0.95, zorder=3)
    ax.plot(d_slow_bar, d_slow_val, color='#f6574b', lw=0.95, zorder=4)
    ticks = [0, 50, 100]
    ax.set_yticks(ticks)
    ax.set_yticklabels(['0.00', '50.00', '100.00'], family='Roboto')
    for t in ticks:
        ax.text(-2.0, t, f'{t:.2f}', ha='right', va='center', fontsize=9.3, family='Roboto', color=TXT)


def draw_time(ax):
    ax.set_ylim(0, 1)
    ax.set_yticks([])
    ax.set_xticks([])
    for b, lab in zip(time_bars, time_labels):
        bold = lab in ('Oct', 'Nov', 'Dec')
        ax.text(b, 0.52, lab, ha='center', va='center', fontsize=9.3, family='Roboto',
                fontweight='bold' if bold else 'normal', color=TXT, clip_on=True)


def draw_chrome(fig):
    fig.add_artist(Rectangle((fx(11), fy(1232)), fx(2348), 1205 / H, transform=fig.transFigure,
                             facecolor='white', edgecolor='#787b86', lw=1, zorder=-5))
    for y in (1014, 1127):
        fig.add_artist(Line2D([fx(11), fx(2359)], [fy(y), fy(y)], color='#e0e3eb', lw=1.2))
    fig.add_artist(Line2D([fx(11), fx(2359)], [fy(1205), fy(1205)], color='#787b86', lw=0.9))
    fig.add_artist(Line2D([fx(65), fx(65)], [fy(27), fy(1232)], color='#787b86', lw=0.9))
    fig.add_artist(Line2D([fx(2293), fx(2293)], [fy(27), fy(1232)], color='#787b86', lw=0.9))

    fig.text(fx(10), fy(16), 'Tickmill published on TradingView.com, Nov 30, 2023 03:55 UTC-5',
             color='#d1d4dc', fontsize=9.3, family='Liberation Sans', va='center')

    # footer logo
    logo = [[(10, 1246), (18, 1246), (18, 1255), (14, 1255), (14, 1249), (10, 1249)],
            [(24, 1246), (30, 1246), (26, 1255), (20, 1255)]]
    for pts in logo:
        fig.add_artist(Polygon([(fx(x), fy(y)) for x, y in pts], transform=fig.transFigure,
                               facecolor='#d1d4dc', edgecolor='none'))
    fig.text(fx(21), fy(1248), '\u2022', color='#d1d4dc', fontsize=8, ha='center', va='center')
    fig.text(fx(33), fy(1252), 'TradingView', color='#d1d4dc', fontsize=10.6, family='Roboto', va='center')

    # price tag
    fig.add_artist(Rectangle((fx(2293), fy(745)), 60 / W, 29 / H, transform=fig.transFigure,
                             facecolor=RED, edgecolor='none', zorder=10))
    fig.text(fx(2323), fy(723), '147.087', color='white', fontsize=9.3, family='Roboto',
             ha='center', va='center', zorder=11)
    fig.text(fx(2323), fy(737), '01:04:52', color='#ffe0e0', fontsize=9.3, family='Roboto',
             ha='center', va='center', zorder=11)

    # scale buttons
    for x, lab in ((38, 'Z'), (2326, 'A')):
        fig.add_artist(Circle((fx(x), fy(1219)), 9 / W, transform=fig.transFigure, facecolor='#f0f3fa',
                              edgecolor='none'))
        fig.text(fx(x), fy(1219), lab, color='#50535e', fontsize=9, family='Roboto', ha='center', va='center')

    # currency button
    box = FancyBboxPatch((2297, H - 57), 58, 26, boxstyle='round,pad=0,rounding_size=5',
                         transform=None, facecolor='white', edgecolor='#f0f3fa', lw=1.4)
    fig.add_artist(box)
    fig.text(fx(2316), fy(44), 'JPY', color=TXT, fontsize=9.3, family='Roboto', ha='center', va='center')


def main():
    fig = plt.figure(figsize=(W / 100, H / 100), dpi=100, facecolor=BG)
    draw_chrome(fig)

    main_ax = make_pane(fig, 27, 1014, (143.81, 154.99))
    rsi_ax = make_pane(fig, 1014, 1127, (-100, 113))
    stoch_ax = make_pane(fig, 1127, 1205, (-9.2, 110.8))
    time_ax = make_pane(fig, 1205, 1232, (0, 1))

    draw_main(main_ax)
    draw_rsi(rsi_ax)
    draw_stoch(stoch_ax)
    draw_time(time_ax)

    fig.savefig('out.png', dpi=100, facecolor=BG)


if __name__ == "__main__":
    main()
